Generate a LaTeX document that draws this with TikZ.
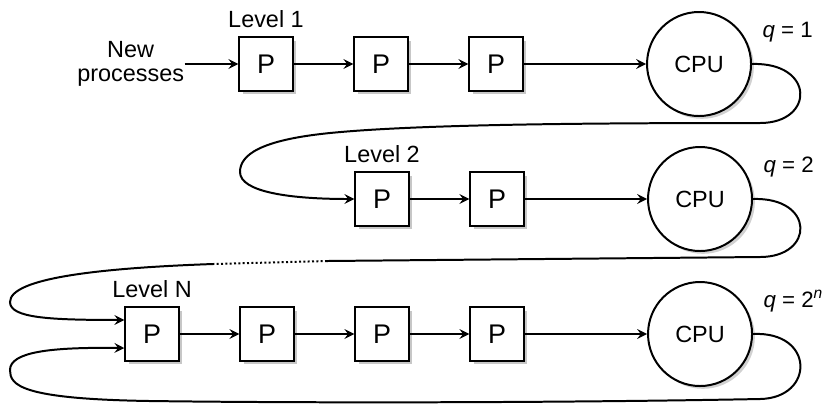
\documentclass[tikz,border=0pt]{standalone}
\usepackage{fontspec}
\setmainfont{Liberation Sans}
\usetikzlibrary{shadows}

\tikzset{
  pbox/.style={draw, line width=0.85pt, fill=white, minimum size=0.8cm, inner sep=0pt,
    font=\fontsize{11.5}{13}\selectfont,
    drop shadow={shadow xshift=1.4pt, shadow yshift=-1.4pt, fill=black!22, opacity=1}},
  cpu/.style={draw, circle, line width=0.85pt, fill=white, minimum size=1.56cm, inner sep=0pt,
    drop shadow={shadow xshift=1.2pt, shadow yshift=-1.2pt, fill=black!18, opacity=1}},
  backline/.style={->, line width=0.85pt},
  qlabel/.style={anchor=base west, xshift=4pt, font=\fontsize{9.5}{11}\selectfont},
}

\begin{document}
\begin{tikzpicture}[x=0.015cm, y=-0.015cm, node distance=1.725cm, >=stealth,
    font=\fontsize{10}{12}\selectfont]
    \useasboundingbox (0,0) rectangle (833,405);

    % 第一级队列
    \node[pbox, label=above:Level 1] (p11) at (266,64) {P};
    \node[pbox, right of=p11] (p12) {P};
    \node[pbox, right of=p12] (p13) {P};
    \node[cpu, right of=p13, node distance=3.045cm, label={[qlabel]30:\textit{q} = 1}] (cpu1) {CPU};
    \node[left of=p11, node distance=2.03cm, align=center, inner sep=0pt] (new) {New\\[-2pt]processes};

    % 第二级队列
    \node[pbox, label=above:Level 2] (p21) at (382,199) {P};
    \node[pbox, right of=p21] (p22) {P};
    \node[cpu, right of=p22, node distance=3.045cm, label={[qlabel]30:\textit{q} = 2}] (cpu2) {CPU};

    % 第N级队列
    \node[pbox, label=above:Level N] (pN1) at (152,334) {P};
    \node[pbox, right of=pN1] (pN2) {P};
    \node[pbox, right of=pN2] (pN3) {P};
    \node[pbox, right of=pN3] (pN4) {P};
    \node[cpu, right of=pN4, node distance=3.045cm, label={[qlabel]30:\textit{q} = 2\textsuperscript{\textit{n}}}] (cpu3) {CPU};

    % 队列内的箭头
    \draw[backline] (new) -- (p11);
    \draw[backline] (p11) -- (p12);
    \draw[backline] (p12) -- (p13);
    \draw[backline] (p13) -- (cpu1);
    \draw[backline] (p21) -- (p22);
    \draw[backline] (p22) -- (cpu2);
    \draw[backline] (pN1) -- (pN2);
    \draw[backline] (pN2) -- (pN3);
    \draw[backline] (pN3) -- (pN4);
    \draw[backline] (pN4) -- (cpu3);

    % 第一级到第二级
    \draw[backline] (cpu1.east) .. controls (815,62) and (815,123) .. (760,123)
        .. controls (600,123) and (420,124) .. (330,133)
        .. controls (260,140) and (240,155) .. (240,172)
        .. controls (240,192) and (290,199) .. (p21.west);

    % 第二级到第N级
    \coordinate (gapR) at (327,261);
    \coordinate (gapL) at (213,264);
    \draw[line width=0.85pt] (cpu2.east) .. controls (815,197) and (815,257) .. (760,257) -- (gapR);
    \draw[line width=0.85pt, densely dotted] (gapR) -- (gapL);
    \draw[backline] (gapL) .. controls (100,268) and (10,278) .. (10,302)
        .. controls (10,318) and (50,320) .. ([yshift=6pt]pN1.west);

    % 第N级回到自身
    \draw[backline] (cpu3.east) .. controls (815,331) and (815,398) .. (760,399)
        .. controls (550,403) and (300,403) .. (150,401)
        .. controls (20,399) and (10,385) .. (10,370)
        .. controls (10,352) and (50,347) .. ([yshift=-6pt]pN1.west);
\end{tikzpicture}
\end{document}
